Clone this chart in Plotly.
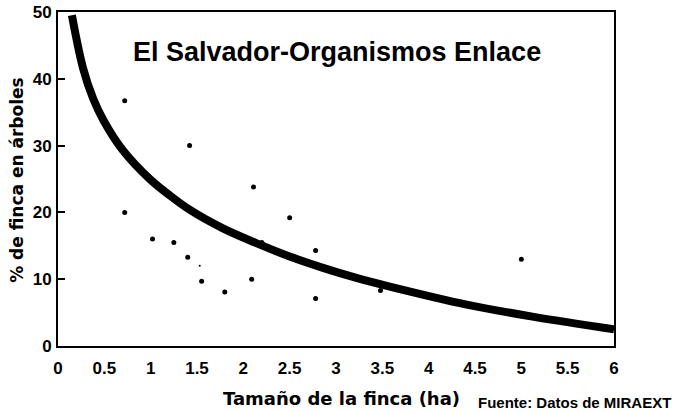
import plotly.graph_objects as go

# Observed farms: size (ha) vs % of farm under trees
farm_size = [0.72, 0.72, 1.02, 1.25, 1.40, 1.42, 1.55, 1.80, 2.09, 2.11, 2.20, 2.50, 2.78, 2.78, 3.48, 5.00]
pct_trees = [36.7, 20.0, 16.0, 15.5, 13.3, 30.0, 9.7, 8.1, 10.0, 23.8, 15.5, 19.2, 14.3, 7.1, 8.3, 13.0]

# tiny speck near (1.53, 12)
speck_x = [1.53]
speck_y = [12.0]

# fitted trend curve
curve_x = [0.15, 0.27, 0.38, 0.49, 0.70, 0.99, 1.21, 1.42, 1.78, 2.14, 2.50, 2.86, 3.22, 3.58, 4.41, 5.12, 6.0]
curve_y = [49.5, 41.6, 37.0, 33.8, 29.3, 25.0, 22.5, 20.4, 17.6, 15.4, 13.4, 11.7, 10.2, 8.9, 6.2, 4.4, 2.5]

x_ticks = [0, 0.5, 1, 1.5, 2, 2.5, 3, 3.5, 4, 4.5, 5, 5.5, 6]
x_tick_labels = ["0", "0.5", "1", "1.5", "2", "2.5", "3", "3.5", "4", "4.5", "5", "5.5", "6"]
y_ticks = [0, 10, 20, 30, 40, 50]
y_tick_labels = ["0", "10", "20", "30", "40", "50"]

title_text = "El Salvador-Organismos Enlace"
x_title = "Tamaño de la finca (ha)"
y_title = "% de finca en árboles"
source_text = "Fuente: Datos de MIRAEXT"

fig = go.Figure()
fig.add_trace(go.Scatter(x=curve_x, y=curve_y, mode="lines",
                         line=dict(color="black", width=8, shape="spline"),
                         showlegend=False, hoverinfo="skip"))
fig.add_trace(go.Scatter(x=farm_size, y=pct_trees, mode="markers",
                         marker=dict(color="black", size=5),
                         showlegend=False))
fig.add_trace(go.Scatter(x=speck_x, y=speck_y, mode="markers",
                         marker=dict(color="black", size=2),
                         showlegend=False))

tick_font = dict(family="Liberation Sans, Arial, sans-serif", size=17, color="black", weight="bold")

fig.update_layout(
    template="none",
    width=676, height=413,
    margin=dict(l=58, r=62, t=12, b=67, autoexpand=False),
    paper_bgcolor="white", plot_bgcolor="white",
    xaxis=dict(range=[0, 6], tickvals=x_ticks, ticktext=x_tick_labels,
               showgrid=False, zeroline=False, showline=True, linecolor="black",
               linewidth=2, mirror=True, ticks="", tickfont=tick_font,
               automargin=False, ticklabelstandoff=6),
    yaxis=dict(range=[0, 50], tickvals=y_ticks, ticktext=y_tick_labels,
               showgrid=False, zeroline=False, showline=True, linecolor="black",
               linewidth=2, mirror=True, ticks="inside", ticklen=7, tickwidth=1.5,
               tickcolor="black", tickfont=tick_font, automargin=False,
               ticklabelstandoff=1),
    annotations=[
        dict(text=title_text, xref="paper", yref="paper", x=0.501, y=0.88,
             xanchor="center", yanchor="middle", showarrow=False,
             font=dict(family="Liberation Sans, Arial, sans-serif", size=27, color="black", weight="bold")),
        dict(text=x_title, xref="paper", yref="paper", x=0.51, y=-0.156,
             xanchor="center", yanchor="middle", showarrow=False,
             font=dict(family="DejaVu Sans, sans-serif", size=18, color="black", weight="bold")),
        dict(text=y_title, xref="paper", yref="paper", x=-0.074, y=0.497,
             xanchor="center", yanchor="middle", showarrow=False, textangle=-90,
             font=dict(family="DejaVu Sans, sans-serif", size=17, color="black", weight="bold")),
        dict(text=source_text, xref="paper", yref="paper", x=1.106, y=-0.168,
             xanchor="right", yanchor="middle", showarrow=False,
             font=dict(family="Liberation Sans, Arial, sans-serif", size=15, color="black", weight="bold")),
    ],
)

fig.write_html("out.html", config={"displayModeBar": False},
               post_script="document.body.style.margin='0px';")
